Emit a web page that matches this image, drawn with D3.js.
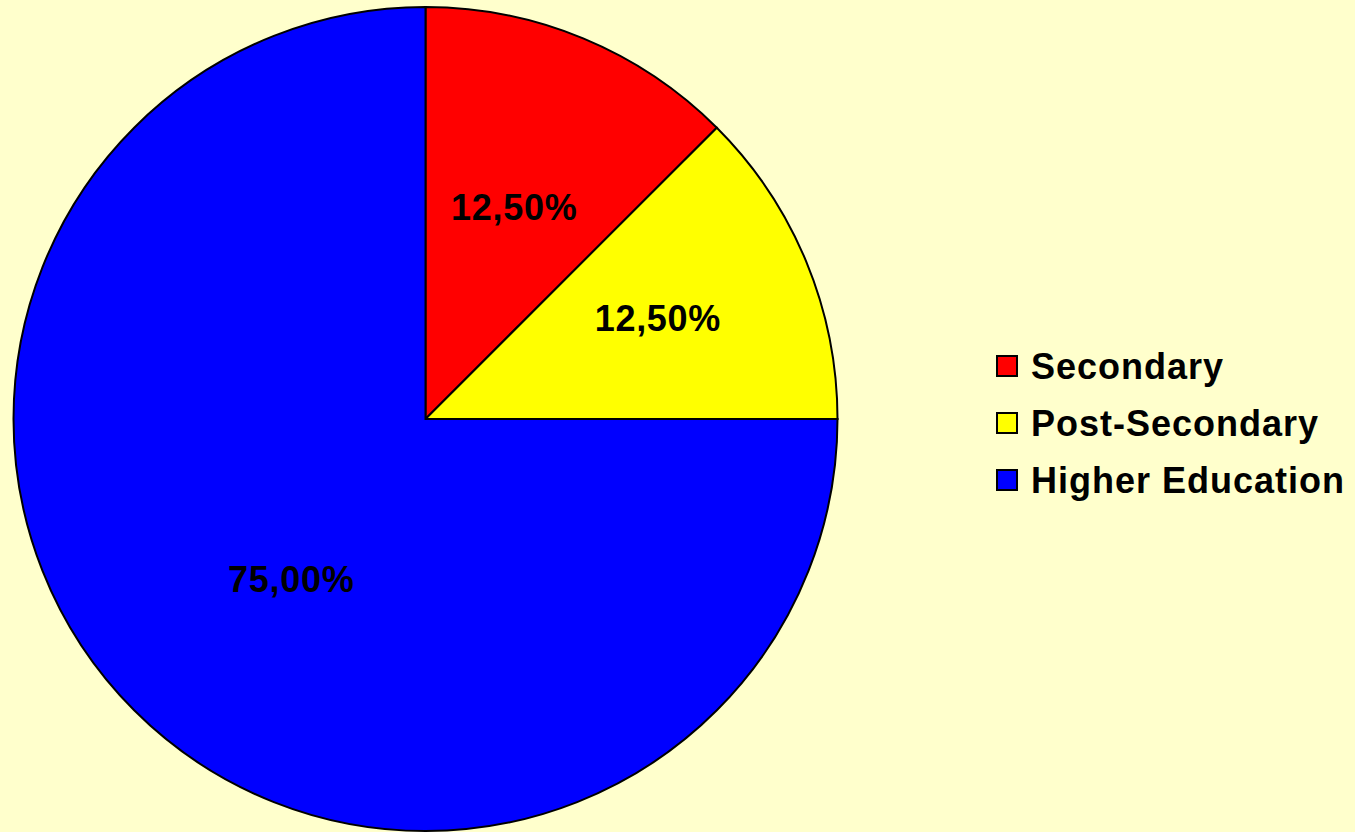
<!DOCTYPE html>
<html>
<head>
<meta charset="utf-8">
<script src="https://cdn.jsdelivr.net/npm/d3@7"></script>
<style>
  html, body { margin: 0; padding: 0; background: #ffffcc; }
  svg { display: block; }
</style>
</head>
<body>
<svg id="chart"></svg>
<script>
const width = 1355, height = 832;

// data
const categories = ["Secondary", "Post-Secondary", "Higher Education"];
const shares = [12.5, 12.5, 75.0];
const sliceColors = ["#ff0000", "#ffff00", "#0000ff"];

const svg = d3.select("#chart").attr("width", width).attr("height", height);
svg.append("rect").attr("width", width).attr("height", height).attr("fill", "#ffffcc");

const cx = 425.5, cy = 419, radius = 412;
const color = d3.scaleOrdinal().domain(categories).range(sliceColors);

const pie = d3.pie().sort(null).value(d => d.value);
const arcs = pie(categories.map((c, i) => ({ name: c, value: shares[i] })));
const arc = d3.arc().innerRadius(0).outerRadius(radius);
const labelArc = d3.arc().innerRadius(0).outerRadius(radius * 1.1);

const g = svg.append("g").attr("transform", `translate(${cx},${cy})`);

g.selectAll("path.slice")
  .data(arcs)
  .join("path")
  .attr("class", "slice")
  .attr("d", arc)
  .attr("fill", d => color(d.data.name))
  .attr("stroke", "#000")
  .attr("stroke-width", 2)
  .attr("stroke-linejoin", "miter");

const fmt = v => v.toFixed(2).replace(".", ",") + "%";

// nudges so labels sit where the original put them
const nudge = [[2, -2], [23, -14], [26, 0]];
g.selectAll("text.lbl")
  .data(arcs)
  .join("text")
  .attr("class", "lbl")
  .attr("transform", d => {
    const [x, y] = labelArc.centroid(d);
    const [nx, ny] = nudge[d.index];
    return `translate(${x + nx},${y + ny})`;
  })
  .attr("text-anchor", "middle")
  .attr("dy", "0.35em")
  .style("font-family", "'Liberation Sans', Arial, sans-serif")
  .style("font-weight", "bold")
  .style("font-size", "36px")
  .style("letter-spacing", "0.7px")
  .attr("fill", "#000")
  .text(d => fmt(d.data.value));

// legend
const legend = svg.append("g").attr("transform", "translate(997,366)");
const rowStep = 57;
const item = legend.selectAll("g.item")
  .data(categories)
  .join("g")
  .attr("class", "item")
  .attr("transform", (d, i) => `translate(0,${i * rowStep})`);

item.append("rect")
  .attr("x", 0).attr("y", -10)
  .attr("width", 20).attr("height", 20)
  .attr("fill", d => color(d))
  .attr("stroke", "#000")
  .attr("stroke-width", 2);

item.append("text")
  .attr("x", 34)
  .attr("dy", "0.35em")
  .style("font-family", "'Liberation Sans', Arial, sans-serif")
  .style("font-weight", "bold")
  .style("font-size", "36px")
  .style("letter-spacing", "1px")
  .attr("fill", "#000")
  .text(d => d);
</script>
</body>
</html>
